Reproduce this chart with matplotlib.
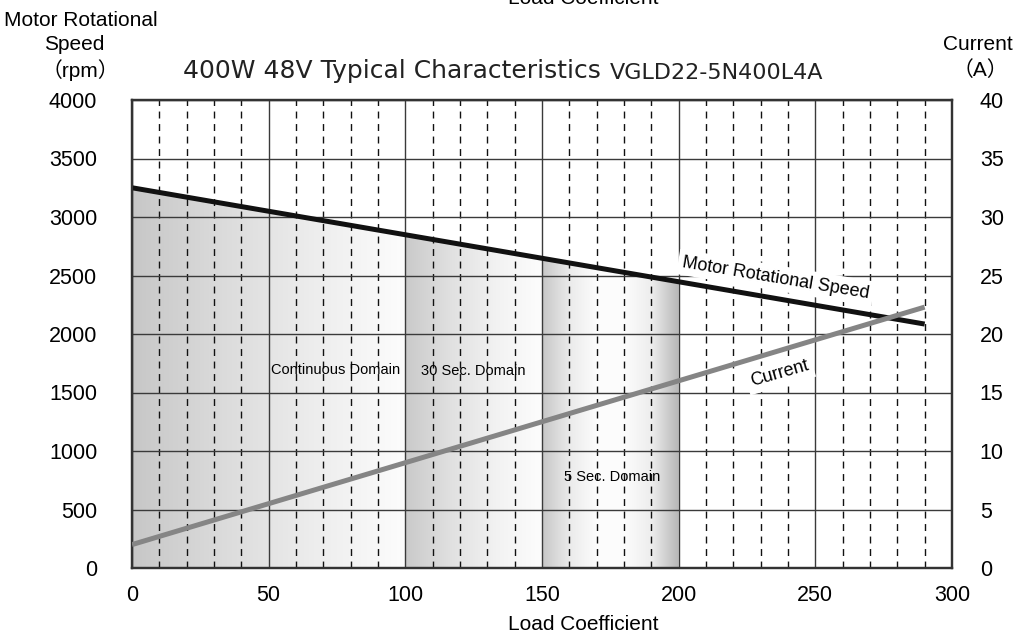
import numpy as np
import matplotlib
matplotlib.use("Agg")
import matplotlib.pyplot as plt
from matplotlib.colors import LinearSegmentedColormap
from matplotlib.patches import Polygon

# Values
load = [0, 290]
speed_rpm = [3250, 2085]
current_a = [2.0, 22.3]

domain_names = ["Continuous Domain", "30 Sec. Domain", "5 Sec. Domain"]
domain_bounds = [(0, 100), (100, 150), (150, 200)]
# gray levels across each band (left -> right)
domain_shades = [
    [0.78, 0.86, 0.93, 0.99],
    [0.79, 0.88, 0.95, 0.99],
    [0.78, 0.92, 0.99, 0.99, 0.93, 0.72],
]

x_ticks = [0, 50, 100, 150, 200, 250, 300]
rpm_ticks = [0, 500, 1000, 1500, 2000, 2500, 3000, 3500, 4000]
amp_ticks = [0, 5, 10, 15, 20, 25, 30, 35, 40]

SANS = ["Liberation Sans", "Noto Sans CJK JP", "DejaVu Sans"]
plt.rcParams["font.family"] = SANS

fig = plt.figure(figsize=(10.21, 6.39), dpi=100)
ax = fig.add_axes([132 / 1021, 71 / 639, 820 / 1021, 468 / 639])
ax.set_xlim(0, 300)
ax.set_ylim(0, 4000)

# grid: solid major lines, dashed minor verticals
for x in range(0, 301, 10):
    if x % 50 == 0:
        ax.axvline(x, color="#3a3a3a", lw=1.0, zorder=1.5)
    else:
        ax.axvline(x, color="#111111", lw=1.0, ls=(0, (5, 4)), zorder=1.5)
for y in rpm_ticks:
    ax.axhline(y, color="#3a3a3a", lw=1.0, zorder=1.5)

# shaded operating domains below the speed curve
for (x0, x1), shades in zip(domain_bounds, domain_shades):
    cmap = LinearSegmentedColormap.from_list("g", [(s, s, s) for s in shades])
    grad = np.linspace(0, 1, 256)[None, :]
    im = ax.imshow(grad, cmap=cmap, extent=(x0, x1, 0, 4000), aspect="auto",
                   origin="lower", zorder=1, interpolation="bilinear")
    s0, s1 = np.interp([x0, x1], load, speed_rpm)
    clip = Polygon([(x0, 0), (x0, s0), (x1, s1), (x1, 0)], closed=True,
                   transform=ax.transData, fill=False, lw=0)
    ax.add_patch(clip)
    im.set_clip_path(clip)

ax.set_xlim(0, 300)
ax.set_ylim(0, 4000)

ax.plot(load, speed_rpm, color="#111111", lw=3.6, zorder=4, solid_capstyle="butt")

ax.text(235.5, 2480, "Motor Rotational Speed", rotation=-9.5, ha="center",
        va="center", fontsize=13, zorder=2.5,
        bbox=dict(fc="white", ec="none", pad=3))

ax.text(74.6, 1690, domain_names[0], fontsize=10.5, ha="center", va="center", zorder=2.5)
ax.text(125, 1685, domain_names[1], fontsize=10.5, ha="center", va="center", zorder=2.5)
ax.text(175.6, 780, domain_names[2], fontsize=10.5, ha="center", va="center", zorder=2.5)

ax2 = ax.twinx()
ax2.set_ylim(0, 40)
ax2.plot(load, current_a, color="#858585", lw=3.6, zorder=4, solid_capstyle="butt")
ax2.text(237, 16.6, "Current", rotation=16, ha="center", va="center",
         fontsize=13, zorder=2.5, bbox=dict(fc="white", ec="none", pad=3))

for a in (ax, ax2):
    for sp in a.spines.values():
        sp.set_color("#333333")
        sp.set_linewidth(1.6)
    a.tick_params(length=0, labelsize=15.5)

ax.set_xticks(x_ticks)
ax.set_yticks(rpm_ticks)
ax2.set_yticks(amp_ticks)
ax.tick_params(axis="y", pad=25)
ax.tick_params(axis="x", pad=12)
ax2.tick_params(axis="y", pad=20)

# header texts
fig.text(81 / 1021, 1 - 20 / 639, "Motor Rotational", fontsize=15, ha="center", va="center")
fig.text(74 / 1021, 1 - 45 / 639, "Speed", fontsize=15, ha="center", va="center")
fig.text(80 / 1021, 1 - 70 / 639, "（rpm）", fontsize=15, ha="center", va="center")
fig.text(978 / 1021, 1 - 45 / 639, "Current", fontsize=15, ha="center", va="center")
fig.text(980 / 1021, 1 - 70 / 639, "（A）", fontsize=15, ha="center", va="center")

fig.text(183 / 1021, 1 - 71 / 639, "400W 48V Typical Characteristics",
         fontsize=18, family="DejaVu Sans", ha="left", va="center", color="#222222")
fig.text(610 / 1021, 1 - 73 / 639, "VGLD22-5N400L4A",
         fontsize=16, family="DejaVu Sans", ha="left", va="center", color="#222222")

fig.text(583 / 1021, 1 - 625 / 639, "Load Coefficient", fontsize=15, ha="center", va="center")
# partially visible copy at the very top edge
fig.text(583 / 1021, 1 - 4 / 639, "Load Coefficient", fontsize=15, ha="center", va="baseline")

fig.savefig("out.png", dpi=100)
